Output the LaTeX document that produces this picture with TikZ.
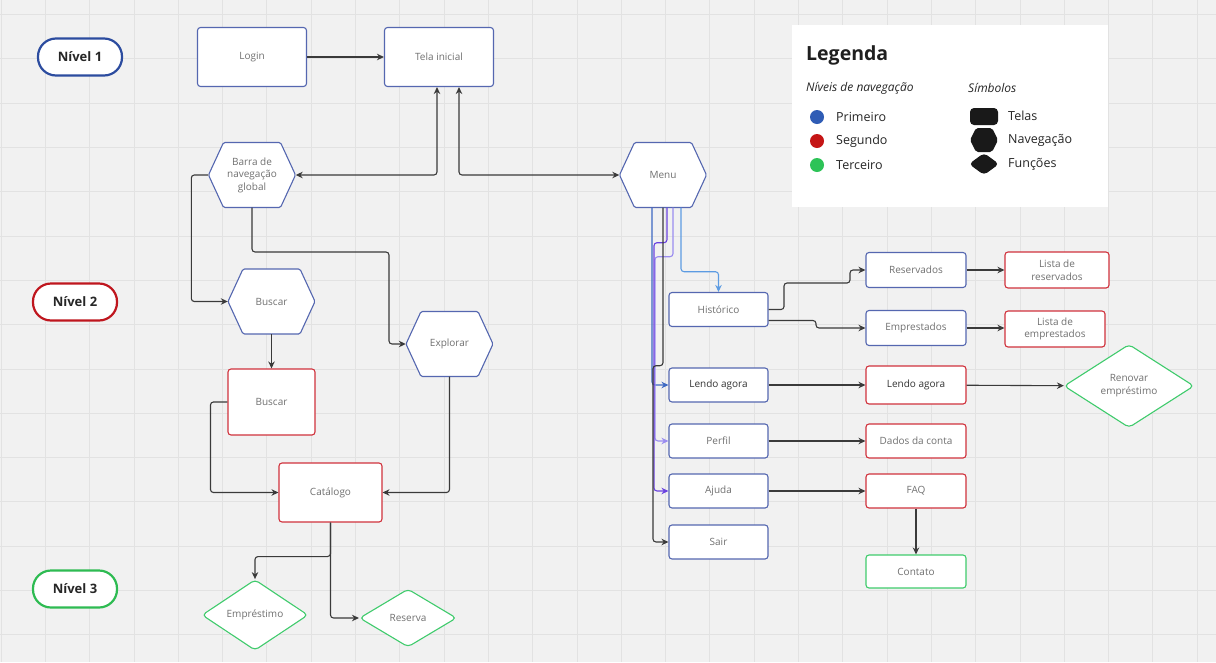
\documentclass[tikz,border=0pt]{standalone}
\usepackage{fontspec}
\setmainfont{Open Sans}
\usetikzlibrary{arrows.meta}
\usetikzlibrary{shapes.geometric}

\definecolor{bgcol}{HTML}{F1F1F1}
\definecolor{gridcol}{HTML}{E2E2E2}
\definecolor{bluln}{HTML}{5567B0}
\definecolor{redln}{HTML}{D0323C}
\definecolor{greenln}{HTML}{3FCB6C}
\definecolor{pillblue}{HTML}{2C4C9F}
\definecolor{pillred}{HTML}{BF161E}
\definecolor{pillgreen}{HTML}{2EBB52}
\definecolor{txtcol}{HTML}{707070}
\definecolor{lincol}{HTML}{3A3A3A}
\definecolor{histcol}{HTML}{5C9BE2}
\definecolor{lendocol}{HTML}{3D68C2}
\definecolor{perfilcol}{HTML}{9A8CF0}
\definecolor{ajudacol}{HTML}{6A42E0}
\definecolor{dotblue}{HTML}{2F5CB5}
\definecolor{dotred}{HTML}{C51515}
\definecolor{dotgreen}{HTML}{2DC357}

\begin{document}
\begin{tikzpicture}[x=1pt,y=-1pt,
  tela/.style={rectangle,rounded corners=3pt,draw,line width=1.1pt,fill=white,text=txtcol,
    font=\fontsize{10}{12.5}\selectfont,align=center,inner sep=2pt},
  tela1/.style={tela,draw=bluln},
  tela2/.style={tela,draw=redln},
  tela3/.style={tela,draw=greenln},
  navlbl/.style={rectangle,draw=none,text=txtcol,font=\fontsize{10}{12.5}\selectfont,align=center,
    minimum width=87pt,minimum height=65pt,inner sep=0pt},
  hexln/.style={draw=bluln,line width=1.1pt,fill=white,rounded corners=1.5pt},
  funcao/.style={diamond,draw=greenln,line width=1.1pt,fill=white,rounded corners=4pt,text=txtcol,
    font=\fontsize{10}{13}\selectfont,align=center,inner sep=1pt},
  nivel/.style={rectangle,rounded corners=18pt,line width=2.2pt,fill=white,minimum width=84pt,
    minimum height=37pt,font=\bfseries\fontsize{13}{15}\selectfont,text=black!85},
  legtxt/.style={anchor=west,text=black!85,font=\fontsize{12.5}{14}\selectfont,inner sep=0pt},
  seta/.style={draw=lincol,line width=1.1pt,rounded corners=3pt,-{Stealth[length=7pt,width=6.5pt]}},
  seta2/.style={seta,{Stealth[length=7pt,width=6.5pt]}-{Stealth[length=7pt,width=6.5pt]}},
]
\useasboundingbox (0,0) rectangle (1216,662);
\fill[bgcol] (0,0) rectangle (1216,662);
\foreach \gx in {1,45.3,...,1216} \draw[gridcol,line width=0.7pt] (\gx,0) -- (\gx,662);
\foreach \gy in {14.5,58.8,...,662} \draw[gridcol,line width=0.7pt] (0,\gy) -- (1216,\gy);

% niveis
\node[nivel,draw=pillblue] (n1) at (80,57) {Nível 1};
\node[nivel,draw=pillred] (n2) at (75,302) {Nível 2};
\node[nivel,draw=pillgreen] (n3) at (75,589) {Nível 3};

% hexagonos de navegacao
\foreach \hx/\hy in {252/175,663/175,271.5/301.5,449.5/344}
  \draw[hexln,shift={(\hx,\hy)}] (-43.5,0) -- (-28.5,-32.5) -- (28.5,-32.5) -- (43.5,0) -- (28.5,32.5) -- (-28.5,32.5) -- cycle;

% nivel 1
\node[tela1,minimum width=109pt,minimum height=59pt] (login) at (252,57) {Login};
\node[tela1,minimum width=109pt,minimum height=59pt] (inicial) at (439,57) {Tela inicial};
\node[navlbl] (barra) at (252,175) {Barra de\\navegação\\global};
\node[navlbl] (menu) at (663,175) {Menu};

% lado esquerdo
\node[navlbl] (buscarnav) at (271.5,301.5) {Buscar};
\node[navlbl] (explorar) at (449.5,344) {Explorar};
\node[tela2,minimum width=87pt,minimum height=66pt] (buscar) at (271.5,402) {Buscar};
\node[tela2,minimum width=103pt,minimum height=59pt] (catalogo) at (330.5,492.5) {Catálogo};
\node[funcao,minimum width=106pt,minimum height=52pt] (emprestimo) at (255,615) {Empréstimo};
\node[funcao,minimum width=97pt,minimum height=58pt] (reserva) at (408,618) {Reserva};

% lado direito
\node[tela1,minimum width=99pt,minimum height=34pt] (historico) at (718.5,309.5) {Histórico};
\node[tela1,minimum width=100pt,minimum height=35pt] (reservados) at (916,270) {Reservados};
\node[tela2,minimum width=104pt,minimum height=36pt] (listares) at (1057,270) {Lista de\\reservados};
\node[tela1,minimum width=100pt,minimum height=35pt] (emprestados) at (916,328) {Emprestados};
\node[tela2,minimum width=100pt,minimum height=36pt] (listaemp) at (1055,329) {Lista de\\emprestados};
\node[tela1,minimum width=99pt,minimum height=34pt,text=black!80] (lendo) at (718.5,385) {Lendo agora};
\node[tela2,minimum width=100pt,minimum height=38pt,text=black!80] (lendo2) at (916,385) {Lendo agora};
\node[funcao,minimum width=130pt,minimum height=78pt] (renovar) at (1129,386) {Renovar\\empréstimo};
\node[tela1,minimum width=99pt,minimum height=34pt] (perfil) at (718.5,441) {Perfil};
\node[tela2,minimum width=100pt,minimum height=34pt] (dados) at (916,441) {Dados da conta};
\node[tela1,minimum width=99pt,minimum height=34pt] (ajuda) at (718.5,491) {Ajuda};
\node[tela2,minimum width=100pt,minimum height=34pt] (faq) at (916,491) {FAQ};
\node[tela1,minimum width=99pt,minimum height=34pt] (sair) at (718.5,542) {Sair};
\node[tela3,minimum width=100pt,minimum height=33pt] (contato) at (916,571.5) {Contato};

% conexoes
\draw[seta] (login) -- (inicial);
\draw[seta2] ([xshift=-2pt]inicial.south) |- (barra.east);
\draw[seta2] ([xshift=20pt]inicial.south) |- (menu.west);
\draw[seta] (barra.west) -- ++(-17,0) |- (buscarnav.west);
\draw[seta] (barra.south) |- (389,252) |- (explorar.west);
\draw[seta] (buscarnav.south) -- (buscar.north);
\draw[seta] (buscar.west) -- ++(-17,0) |- (catalogo.west);
\draw[seta] (explorar.south) |- (catalogo.east);
\draw[seta] (catalogo.south) -- ++(0,34) -| (emprestimo.north);
\draw[seta] (catalogo.south) |- (reserva.west);

\draw[seta,draw=histcol] ([xshift=18pt]menu.south) -- ++(0,64) -| (historico.north);
\draw[seta,draw=lendocol] ([xshift=-11pt]menu.south) |- (lendo.west);
\draw[seta,draw=perfilcol] ([xshift=10pt]menu.south) -- ++(0,49) -- ++(-18,0) |- (perfil.west);
\draw[seta,draw=ajudacol] ([xshift=4pt]menu.south) -- ++(0,35) -- ++(-13,0) |- (ajuda.west);
\draw[seta] (menu.south) -- ++(0,158) -- ++(-10,0) |- (sair.west);

\draw[seta] (historico.east) -| (784,283) -| (850,270) -- (reservados.west);
\draw[seta] ([yshift=-11pt]historico.east) -| (816,328) -- (emprestados.west);
\draw[seta] (reservados) -- (listares);
\draw[seta] (emprestados.east) -- (emprestados.east -| listaemp.west);
\draw[seta] (lendo) -- (lendo2);
\draw[seta] (lendo2) -- (renovar);
\draw[seta] (perfil) -- (dados);
\draw[seta] (ajuda) -- (faq);
\draw[seta] (faq) -- (contato);

% legenda
\node[fill=white,minimum width=316pt,minimum height=182pt,inner sep=0pt,anchor=north west] (legenda) at (792,25) {};
\node[anchor=west,inner sep=0pt,text=black!88,font=\bfseries\fontsize{19.5}{22}\selectfont] (legtit) at (806,55) {Legenda};
\node[legtxt,font=\itshape\fontsize{12}{14}\selectfont] (legniv) at (806,88) {Níveis de navegação};
\node[legtxt,font=\itshape\fontsize{12}{14}\selectfont] (legsim) at (968,88) {Símbolos};
\fill[dotblue] (817,117) circle (7pt);
\fill[dotred] (817,141) circle (7pt);
\fill[dotgreen] (817,165) circle (7pt);
\node[legtxt] (legprim) at (836,117) {Primeiro};
\node[legtxt] (legseg) at (836,141) {Segundo};
\node[legtxt] (legter) at (836,165) {Terceiro};
\fill[black!90,rounded corners=4pt] (970,108) rectangle (998,125);
\fill[black!90,rounded corners=2pt,shift={(984,140)}] (-14,0) -- (-8,-12) -- (8,-12) -- (14,0) -- (8,12) -- (-8,12) -- cycle;
\fill[black!90,rounded corners=4pt,shift={(984,164)}] (-15,0) -- (0,-11) -- (15,0) -- (0,11) -- cycle;
\node[legtxt] (legtelas) at (1008,116) {Telas};
\node[legtxt] (legnav) at (1008,140) {Navegação};
\node[legtxt] (legfun) at (1008,164) {Funções};
\end{tikzpicture}
\end{document}
